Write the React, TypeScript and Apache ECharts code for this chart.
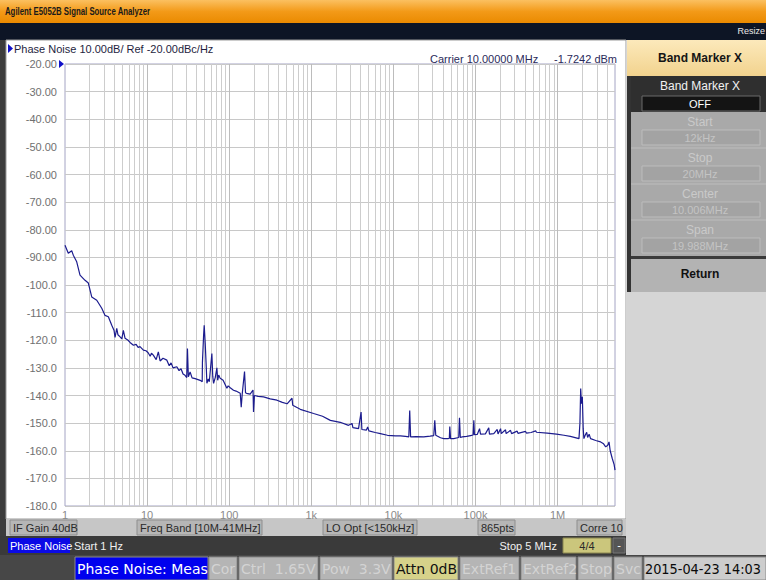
import React, { useEffect, useRef } from 'react';
import * as echarts from 'echarts';

const freqHz = [
  1, 1.097, 1.207, 1.262, 1.389, 1.523, 1.754, 1.924, 2.116, 2.436, 2.803, 3.075, 3.373, 3.711, 3.96, 4.07, 4.27, 4.41, 4.69, 4.92,
  5.14, 5.39, 5.87, 6.2, 6.81, 7.35, 7.77, 8.2, 9.01, 9.7, 10.3, 10.9, 11.3, 11.9, 12.9, 13.7, 14.4, 15.6, 17.4, 18.6,
  19.6, 20.7, 23.0, 24.5, 25.9, 27.4, 29.0, 30.4, 31.0, 31.8, 33.4, 35.3, 38.5, 44.3, 46.9, 47.2, 48.8, 49.6, 51.0, 52.6,
  53.5, 55.6, 57.2, 61.5, 63.0, 64.5, 67.6, 70.8, 72.4, 74.5, 77.7, 84.3, 93.7, 97.2, 102.9, 112.8, 121.1, 136.2, 140.1, 144.0,
  153.7, 158.0, 162.5, 180.0, 195.0, 197.8, 203.0, 225.0, 261.8, 316.0, 382.0, 444.0, 507.0, 582.0, 594.0, 734.0, 1067, 1370, 1706, 2250,
  2840, 3135, 3210, 3760, 4038, 4130, 4690, 4860, 5030, 6000, 6940, 8470, 10580, 12180, 14000, 15400, 15800, 16200, 19000, 23400,
  28000, 31000, 31900, 32800, 37500, 41000, 45800, 48000, 48600, 49700, 54300, 62500, 63800, 65300, 68800, 78000, 87000, 93500, 95400, 97000,
  105000, 112000, 115000, 132000, 145000, 148000, 167000, 184000, 188000, 202000, 206000, 232000, 236000, 267000, 275000, 322000, 329000, 407000, 417000, 475000,
  540000, 553000, 748000, 967000, 1194000, 1430000, 1820000, 1870000, 1910000, 1950000, 2000000, 2050000, 2090000, 2160000, 2260000, 2320000, 2420000, 2520000, 2910000, 3340000,
  3630000, 3850000, 4080000, 4230000, 4370000, 4640000, 4880000, 5000000,
];
const noiseDbc = [
  -85.6, -88.5, -87.6, -89.2, -91.6, -96.4, -98.3, -99.3, -104.3, -105.5, -108.4, -111.0, -111.5, -114.6, -116.5, -119.0, -115.7, -118.0, -118.8, -119.5,
  -116.4, -119.3, -120.0, -120.8, -121.8, -121.5, -122.6, -122.3, -123.6, -123.8, -124.5, -125.8, -124.7, -125.4, -127.0, -124.2, -127.5, -126.5, -127.2, -129.2,
  -128.2, -130.0, -129.6, -131.0, -130.3, -132.2, -132.7, -133.5, -123.0, -133.2, -131.5, -133.6, -133.9, -134.5, -135.0, -128.0, -118.0, -114.6, -121.0, -130.0,
  -135.6, -134.0, -135.0, -124.8, -133.0, -135.6, -133.5, -130.0, -134.5, -132.6, -133.8, -134.5, -137.4, -136.5, -137.2, -138.1, -138.4, -139.2, -144.2, -139.5,
  -131.3, -139.0, -139.2, -139.5, -138.0, -146.0, -140.0, -140.3, -140.5, -141.2, -141.7, -142.5, -143.0, -141.0, -143.5, -145.0, -146.5, -147.5, -149.0, -149.7,
  -150.8, -150.1, -151.6, -152.0, -146.0, -152.3, -152.5, -151.4, -152.8, -153.4, -153.8, -154.4, -154.6, -154.6, -154.8, -155.0, -145.4, -155.0, -154.9, -155.0,
  -154.7, -154.5, -149.0, -154.4, -155.3, -155.6, -155.6, -155.5, -151.2, -155.6, -155.6, -155.2, -148.1, -155.2, -155.0, -154.8, -154.5, -154.3, -149.0, -154.2,
  -154.1, -152.0, -154.0, -153.9, -151.7, -154.0, -153.8, -152.3, -153.9, -152.0, -153.8, -152.4, -153.8, -152.6, -153.8, -152.9, -153.7, -153.0, -153.6, -153.4,
  -152.8, -153.3, -153.6, -154.0, -154.4, -154.8, -155.6, -150.0, -137.5, -143.0, -140.5, -152.0, -155.6, -154.5, -153.3, -155.2, -154.0, -155.6, -156.3, -156.8,
  -157.5, -158.6, -158.0, -156.8, -160.0, -162.9, -165.0, -167.0,
];
const xTickLabels = ['1', '10', '100', '1k', '10k', '100k', '1M'];
const xMin = 1;
const xMax = 5e6;
const yMin = -180;
const yMax = -20;
const yStep = 10;
const decades = [1, 10, 100, 1000, 10000, 100000, 1000000];
const gridMultipliers = [1, 2, 3, 4, 5, 6, 7, 8, 9];

const infoItems = ['IF Gain 40dB', 'Freq Band [10M-41MHz]', 'LO Opt [<150kHz]', '865pts', 'Corre 10'];
const statusItems = ['Phase Noise: Meas', 'Cor', 'Ctrl  1.65V', 'Pow  3.3V', 'Attn 0dB', 'ExtRef1', 'ExtRef2', 'Stop', 'Svc', '2015-04-23 14:03'];
const menuItems = [
  { label: 'Start', value: '12kHz' },
  { label: 'Stop', value: '20MHz' },
  { label: 'Center', value: '10.006MHz' },
  { label: 'Span', value: '19.988MHz' },
];

const SANS = '"Liberation Sans", Arial, sans-serif';
const DV = '"DejaVu Sans", sans-serif';

function txt(x: number, y: number, text: string, fill: string, font: string, align = 'left', extra: any = {}) {
  return { type: 'text', x, y, z: 20, ...extra, style: { text, fill, font, align, verticalAlign: 'middle' } };
}
function box(x: number, y: number, w: number, h: number, fill: any, stroke?: string, z = 10, lw = 1) {
  return { type: 'rect', z, shape: { x, y, width: w, height: h }, style: { fill, stroke: stroke || 'none', lineWidth: lw } };
}

export default function App() {
  const ref = useRef<HTMLDivElement>(null);
  useEffect(() => {
    const chart = echarts.init(ref.current!, null, { renderer: 'svg' });

    const gridValues: { v: number; major: boolean }[] = [];
    decades.forEach((d) => gridMultipliers.forEach((m) => {
      const v = m * d;
      if (v > xMin && v < xMax) gridValues.push({ v, major: m === 1 });
    }));

    const infoPos = [[10, 67], [137, 125], [323, 94], [478, 37], [577, 45]];
    const statusPos = [[75, 133], [209, 28], [239, 79], [320, 72], [394, 64], [460, 59], [521, 55], [578, 34], [614, 28], [644, 122]];

    const graphics: any[] = [];
    // top bars
    graphics.push(box(0, 0, 766, 23, new echarts.graphic.LinearGradient(0, 0, 0, 1, [
      { offset: 0, color: '#fbc060' }, { offset: 0.5, color: '#f39a18' }, { offset: 1, color: '#ea8a00' }]), undefined, -5));
    graphics.push(txt(5, 12, 'Agilent E5052B Signal Source Analyzer', '#1a1a1a', 'bold 10px ' + SANS, 'left', { scaleX: 0.78 }));
    graphics.push(box(0, 23, 766, 17, '#0d1525', undefined, -5));
    graphics.push(txt(765, 31, 'Resize', '#e8e8e8', '9px ' + SANS, 'right'));
    // left strip and chart window
    graphics.push(box(0, 40, 6, 515, '#3c3c3c', undefined, -5));
    graphics.push(box(6, 40, 620, 479, '#ffffff', '#9a9a9a', -5));
    // info bar
    graphics.push(box(6, 519, 620, 17, '#c6c6c6', undefined, -5));
    infoItems.forEach((t, i) => {
      const [x, w] = infoPos[i];
      graphics.push(box(x, 520, w, 15, '#b6b6b6', '#8e8e8e'));
      graphics.push(txt(x + 3, 528, t, '#2a2a2a', '11px ' + SANS));
    });
    // channel bar
    graphics.push(box(0, 536, 626, 19, '#3a3a3a', undefined, -5));
    graphics.push(box(8, 538, 62, 15, '#0a0ae6'));
    graphics.push(txt(10, 546, 'Phase Noise', '#ffffff', '11px ' + SANS));
    graphics.push(txt(74, 546, 'Start 1 Hz', '#f0f0f0', '11px ' + SANS));
    graphics.push(txt(557, 546, 'Stop 5 MHz', '#f0f0f0', '11px ' + SANS, 'right'));
    graphics.push(box(563, 538, 48, 15, '#cbc67c', '#8a8650'));
    graphics.push(txt(587, 546, '4/4', '#2a2a2a', '11px ' + SANS, 'center'));
    graphics.push(box(613, 538, 12, 15, '#555555', '#777777'));
    graphics.push(txt(619, 545, '-', '#ffffff', '11px ' + SANS, 'center'));
    // status bar
    graphics.push(box(0, 555, 766, 25, '#474747', undefined, -5));
    statusItems.forEach((t, i) => {
      const [x, w] = statusPos[i];
      let fill = '#b5b5b5', color = '#d3d3d3';
      if (i === 0) { fill = '#0000ee'; color = '#ffffff'; }
      if (i === 4) { fill = '#d6d28a'; color = '#111111'; }
      if (i === 9) { fill = '#cdcdcd'; color = '#0a0a0a'; }
      graphics.push(box(x, 557, w, 23, fill, '#8a8a8a'));
      if (i === 9) graphics.push(txt(x + 1, 569, t, color, '14px ' + DV, 'left', { scaleX: 0.92 }));
      else graphics.push(txt(x + 2, 569, t, color, '14px ' + DV));
    });
    // right panel
    graphics.push(box(626, 40, 140, 515, '#d5d5d5', undefined, -5));
    graphics.push(box(627, 40, 139, 36, new echarts.graphic.LinearGradient(0, 0, 0, 1, [
      { offset: 0, color: '#fce9bb' }, { offset: 1, color: '#f2d38e' }])));
    graphics.push(txt(700, 58, 'Band Marker X', '#151515', 'bold 12px ' + SANS, 'center'));
    graphics.push(box(627, 76, 139, 36, '#2f2f2f'));
    graphics.push(txt(700, 86, 'Band Marker X', '#f2f2f2', '12px ' + SANS, 'center'));
    graphics.push(box(642, 96, 118, 15, '#141414', '#6a6a6a'));
    graphics.push(txt(700, 103.5, 'OFF', '#ffffff', '11px ' + SANS, 'center'));
    graphics.push(box(631, 112, 135, 145, '#a9a9a9'));
    menuItems.forEach((m, i) => {
      const y0 = 112 + i * 36;
      if (i > 0) graphics.push({ type: 'line', z: 12, shape: { x1: 631, y1: y0, x2: 766, y2: y0 }, style: { stroke: '#bdbdbd', lineWidth: 1 } });
      graphics.push(txt(700, y0 + 10, m.label, '#cacaca', '12px ' + SANS, 'center'));
      graphics.push(box(642, y0 + 18, 118, 15, '#a3a3a3', '#bcbcbc'));
      graphics.push(txt(700, y0 + 26, m.value, '#c4c4c4', '11px ' + SANS, 'center'));
    });
    graphics.push(box(627, 76, 4, 216, '#333333'));
    graphics.push(box(631, 256, 135, 3, '#3a3a3a'));
    graphics.push(box(631, 259, 135, 33, '#b3b3b3'));
    graphics.push(txt(700, 274, 'Return', '#111111', 'bold 12px ' + SANS, 'center'));
    // chart window header
    graphics.push({ type: 'polygon', z: 20, shape: { points: [[8, 44], [13, 48.5], [8, 53]] }, style: { fill: '#1010c8' } });
    graphics.push(txt(14, 49, 'Phase Noise 10.00dB/ Ref -20.00dBc/Hz', '#1e1e3e', '11px ' + SANS));
    graphics.push(txt(430, 59, 'Carrier 10.00000 MHz', '#2a2a5a', '11px ' + SANS));
    graphics.push(txt(617, 59, '-1.7242 dBm', '#2a2a5a', '11px ' + SANS, 'right'));
    graphics.push({ type: 'polygon', z: 20, shape: { points: [[59, 60], [64, 64], [59, 68]] }, style: { fill: '#1010c8' } });

    chart.setOption({
      animation: false,
      backgroundColor: '#d5d5d5',
      grid: { left: 65, top: 64, right: 151, bottom: 74, show: true, backgroundColor: '#ffffff', borderColor: '#a4a4c4', borderWidth: 1 },
      xAxis: {
        type: 'log', logBase: 10, min: xMin, max: xMax,
        axisLine: { show: false }, axisTick: { show: false }, splitLine: { show: false },
        axisLabel: {
          color: '#8a8a8a', fontSize: 11, fontFamily: SANS, margin: 3, showMaxLabel: false,
          formatter: (v: number) => xTickLabels[Math.round(Math.log10(v))] ?? '',
        },
      },
      yAxis: {
        type: 'value', min: yMin, max: yMax, interval: yStep,
        axisLine: { show: false }, axisTick: { show: false },
        splitLine: { lineStyle: { color: '#c8c8c8', width: 1 } },
        axisLabel: {
          color: '#707070', fontSize: 11, fontFamily: SANS, margin: 8,
          formatter: (v: number) => (v > -100 ? v.toFixed(2) : v.toFixed(1)),
        },
      },
      series: [
        {
          type: 'line', data: [], z: 1, silent: true,
          markLine: {
            silent: true, symbol: ['none', 'none'], animation: false, label: { show: false },
            data: gridValues.map((g) => ({ xAxis: g.v, lineStyle: { color: g.major ? '#bcbcbc' : '#cdcdcd', width: 1, type: 'solid' } })),
          },
        },
        {
          type: 'line', z: 5, showSymbol: false, symbol: 'none',
          lineStyle: { color: '#1c1c8e', width: 1.2 },
          data: freqHz.map((f, i) => [f, noiseDbc[i]]),
        },
      ],
      graphic: graphics,
    });
    return () => chart.dispose();
  }, []);
  return <div ref={ref} style={{ position: 'absolute', left: 0, top: 0, width: 766, height: 580 }} />;
}
